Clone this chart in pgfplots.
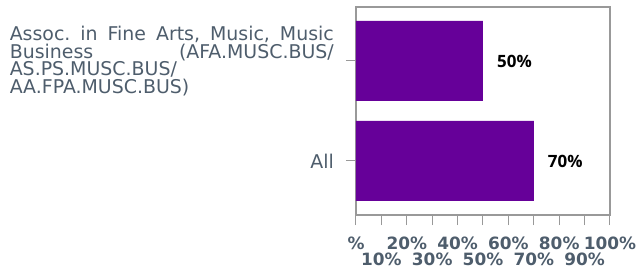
\documentclass[border=0pt]{standalone}
\usepackage{pgfplots}
\pgfplotsset{compat=1.18}
\usepackage{fontspec}
\setmainfont{DejaVu Sans}
\newfontfamily\lblfont{Open Sans}
\definecolor{barc}{HTML}{660099}
\definecolor{txt}{HTML}{4E5D6C}
\definecolor{axc}{HTML}{999999}
\frenchspacing
\begin{document}
\begin{tikzpicture}
\useasboundingbox (-356bp,-57bp) rectangle (280bp,215bp);
\begin{axis}[
  at={(0,0)}, anchor=south west,
  scale only axis, width=254bp, height=208bp,
  xmin=0, xmax=100, ymin=-0.54, ymax=1.54,
  xbar, bar width=80bp,
  axis line style={axc, line width=1.2bp},
  tick style={axc, line width=1bp},
  tick align=outside,
  major tick length=10bp,
  xtick pos=bottom, ytick pos=left,
  xtick={0,20,...,100},
  xticklabels={\%,20\%,40\%,60\%,80\%,100\%},
  extra x ticks={10,30,50,70,90},
  extra x tick labels={10\%,30\%,50\%,70\%,90\%},
  extra x tick style={tick label style={yshift=-15.5bp}},
  xticklabel style={font=\fontsize{17}{17}\selectfont\bfseries, text=txt, inner sep=0pt, yshift=-12bp},
  ytick={0,1},
  yticklabels={All,{\parbox{324bp}{\makebox[324bp][s]{Assoc. in Fine Arts, Music, Music}\\Business\hfill(AFA.MUSC.BUS/\\AS.PS.MUSC.BUS/\\AA.FPA.MUSC.BUS)}}},
  yticklabel style={font=\fontsize{19}{17.7}\selectfont, text=txt, inner sep=0pt, xshift=-12bp},
  nodes near coords={\pgfmathprintnumber[assume math mode=true]{\pgfplotspointmeta}\%},
  nodes near coords style={font=\lblfont\bfseries\fontsize{17}{17}\selectfont, text=black, anchor=west, inner sep=0pt, xshift=14bp},
  point meta=x,
]
\addplot[fill=barc, draw=none] coordinates {(70,0) (50,1)};
\end{axis}
\end{tikzpicture}
\end{document}
